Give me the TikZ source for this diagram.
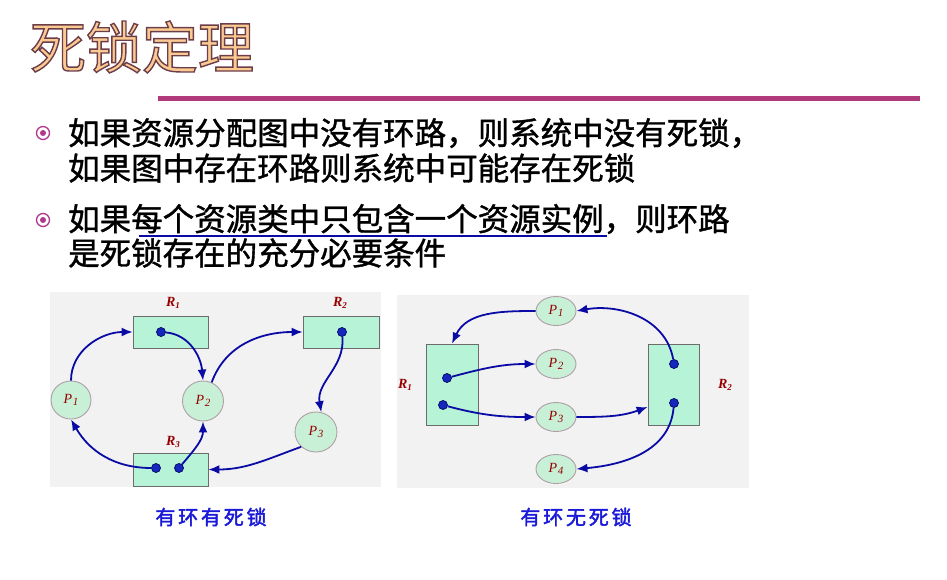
\documentclass[tikz,border=0pt]{standalone}
\usepackage{fontspec}
\setmainfont{Liberation Serif}
\newfontfamily\cjk{Noto Sans CJK SC}
\newfontfamily\cjkbody{Noto Sans CJK SC}[FakeBold=1.2]
\newfontfamily\cjkcap{Noto Sans CJK SC}[LetterSpace=14,FakeBold=2]
\usetikzlibrary{shapes.geometric,arrows.meta}
\definecolor{bar}{RGB}{176,58,122}
\definecolor{bullet}{RGB}{176,58,140}
\definecolor{panel}{RGB}{242,242,242}
\definecolor{mint}{RGB}{183,243,214}
\definecolor{mintc}{RGB}{200,240,214}
\definecolor{procedge}{RGB}{175,160,165}
\definecolor{arrowblue}{RGB}{10,10,165}
\definecolor{dotblue}{RGB}{20,40,190}
\definecolor{lblred}{RGB}{150,0,0}
\definecolor{capblue}{RGB}{25,25,215}
\definecolor{titlefill}{RGB}{250,203,145}
\tikzset{
  res/.style={draw=gray!85!black, fill=mint, line width=0.8pt, inner sep=0},
  proc/.style={ellipse, draw=procedge, fill=mintc, line width=0.9pt, inner sep=0,
    text=lblred, font=\itshape\fontsize{14}{14}\selectfont},
  rdot/.style={circle, fill=dotblue, draw=arrowblue!60!black, line width=0.7pt, minimum size=9pt, inner sep=0},
  arr/.style={draw=arrowblue, line width=1.8pt, -{Latex[length=11pt,width=9pt]}},
  lbl/.style={text=lblred, font=\bfseries\itshape\fontsize{14}{14}\selectfont, inner sep=0},
  bodytext/.style={anchor=west, inner sep=0, font=\cjkbody\fontsize{31.5}{31.5}\selectfont},
  capt/.style={text=capblue, inner sep=0, font=\cjkcap\fontsize{20}{20}\selectfont},
  bul/.style={circle, draw=bullet, line width=1.3pt, minimum size=13pt, inner sep=0, fill=white},
  buldot/.style={circle, fill=bullet, minimum size=6pt, inner sep=0},
}
\newcommand{\sub}[2]{#1\raisebox{-2.5pt}{\fontsize{9}{9}\selectfont #2}}
\newcommand{\psub}[2]{#1\kern0.5pt\raisebox{-2pt}{\fontsize{11}{11}\selectfont #2}}
\newcommand{\outlined}[1]{\special{pdf:literal direct 2 Tr 1.4 w 0.43 0.24 0.29 RG}#1\special{pdf:literal direct 0 Tr}}
\begin{document}
\begin{tikzpicture}[x=1pt,y=1pt]
\useasboundingbox (0,0) rectangle (947,-580);
% title
\node[inner sep=0, text=titlefill, font=\cjk\fontsize{56}{56}\selectfont] (title) at (142,-47) {\outlined{死锁定理}};
\fill[bar] (158,-96) rectangle (920,-101.5);
% bullets
\node[bul] (b1) at (43,-133) {};
\node[buldot] at (b1) {};
\node[bul] (b2) at (43,-220) {};
\node[buldot] at (b2) {};
\node[bodytext] (l1) at (68,-133) {如果资源分配图中没有环路，则系统中没有死锁，};
\node[bodytext] (l2) at (68,-168) {如果图中存在环路则系统中可能存在死锁};
\node[bodytext] (l3) at (68,-219) {如果每个资源类中只包含一个资源实例，则环路};
\node[bodytext] (l4) at (68,-253) {是死锁存在的充分必要条件};
\draw[arrowblue, line width=2.5pt] (139,-236) -- (607,-236);
% ---- panel 1
\fill[panel] (50,-292) rectangle (381,-487);
\node[res, minimum width=75pt, minimum height=32pt] (R1) at (170.5,-332) {};
\node[res, minimum width=76pt, minimum height=32pt] (R2) at (341,-332) {};
\node[res, minimum width=75pt, minimum height=33pt] (R3) at (170.5,-469.5) {};
\node[lbl] (R1l) at (173,-303) {\sub{R}{1}};
\node[lbl] (R2l) at (340,-303) {\sub{R}{2}};
\node[lbl] (R3l) at (173,-442) {\sub{R}{3}};
\node[proc, minimum width=40pt, minimum height=38pt] (P1) at (71,-400) {\psub{P}{1}};
\node[proc, minimum width=41pt, minimum height=40pt] (P2) at (203,-401) {\psub{P}{2}};
\node[proc, minimum width=42pt, minimum height=40pt] (P3) at (316,-432) {\psub{P}{3}};
\node[rdot] (d1) at (161,-332) {};
\node[rdot] (d2) at (342,-332) {};
\node[rdot] (d3a) at (156,-468) {};
\node[rdot] (d3b) at (179,-468) {};
\draw[arr] (P1.north) to[out=90,in=180] (R1.west);
\draw[arr] (d1) to[out=-5,in=95] (P2.north);
\draw[arr] (P2.65) to[out=70,in=180] (R2.west);
\draw[arr] (d2) to[out=-85,in=100] (P3.75);
\draw[arr] (P3.225) to[out=200,in=0] (R3.east);
\draw[arr] (d3b) to[out=50,in=-90] (P2.south);
\draw[arr] (d3a) to[out=180,in=-60] (P1.south);
\node[capt] (c1) at (211,-517) {有环有死锁};
% ---- panel 2
\fill[panel] (397,-295) rectangle (749,-488);
\node[res, minimum width=52pt, minimum height=81pt] (Q1) at (452,-384.5) {};
\node[res, minimum width=51pt, minimum height=81pt] (Q2) at (673.5,-384.5) {};
\node[lbl] (Q1l) at (405,-385) {\sub{R}{1}};
\node[lbl] (Q2l) at (725,-385) {\sub{R}{2}};
\node[proc, minimum width=40pt, minimum height=29pt] (S1) at (556,-311) {\psub{P}{1}};
\node[proc, minimum width=40pt, minimum height=29pt] (S2) at (556,-364) {\psub{P}{2}};
\node[proc, minimum width=40pt, minimum height=29pt] (S3) at (556,-417) {\psub{P}{3}};
\node[proc, minimum width=40pt, minimum height=29pt] (S4) at (556,-469) {\psub{P}{4}};
\node[rdot] (a1) at (447,-378) {};
\node[rdot] (a2) at (443,-405) {};
\node[rdot] (e1) at (674,-364) {};
\node[rdot] (e2) at (674,-403) {};
\draw[arr] (S1.west) to[out=180,in=65] (Q1.north);
\draw[arr] (e1) to[out=100,in=10] (S1.east);
\draw[arr] (a1) to[out=15,in=180] (S2.west);
\draw[arr] (a2) to[out=-15,in=180] (S3.west);
\draw[arr] (S3.east) to[out=0,in=200] (Q2.221);
\draw[arr] (e2) to[out=-95,in=5] (S4.east);
\node[capt] (c2) at (576,-517) {有环无死锁};
\end{tikzpicture}
\end{document}
